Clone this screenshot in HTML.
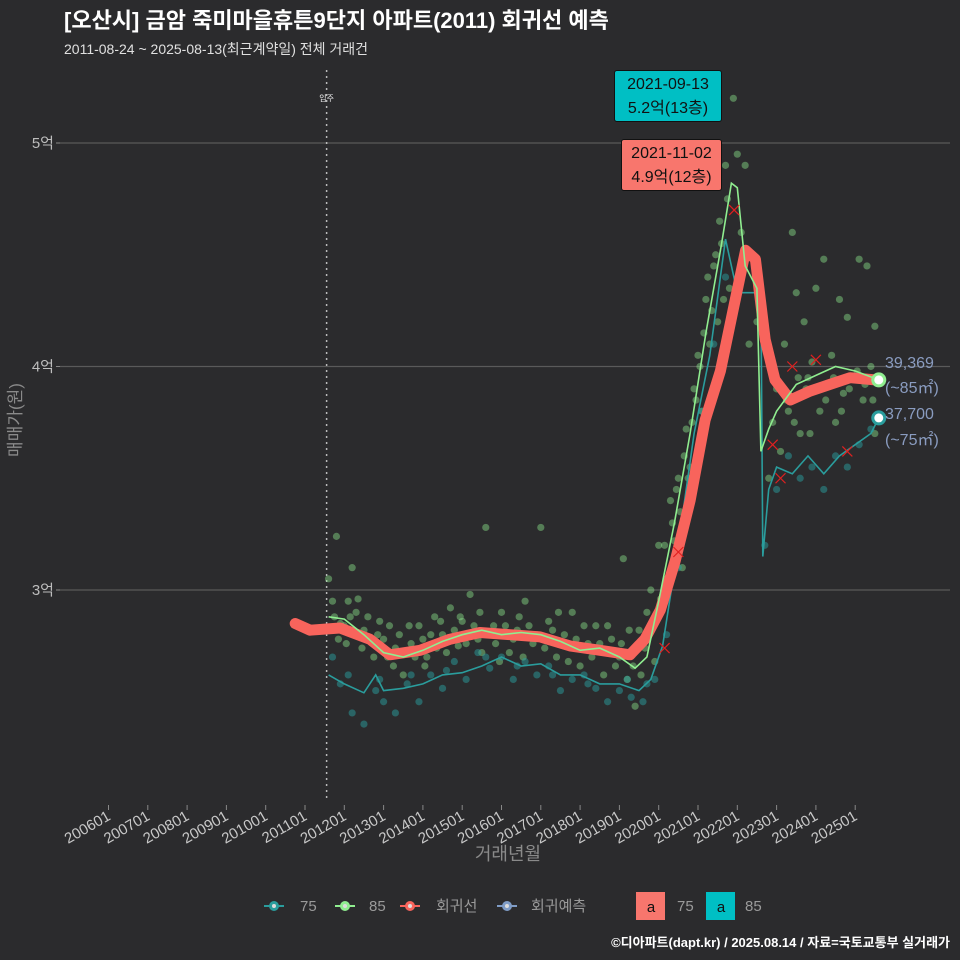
<!DOCTYPE html>
<html><head><meta charset="utf-8">
<style>
body{margin:0;background:#2b2b2d;}
svg{display:block;font-family:"Liberation Sans","Noto Sans CJK KR",sans-serif;}
</style></head>
<body>
<svg id="chart" width="960" height="960" viewBox="0 0 960 960" xmlns="http://www.w3.org/2000/svg">
<rect width="960" height="960" fill="#2b2b2d"/>
<text x="64" y="28" fill="#ffffff" font-size="22" font-weight="bold">[오산시] 금암 죽미마을휴튼9단지 아파트(2011) 회귀선 예측</text>
<text x="64" y="54" fill="#e0e0e0" font-size="14">2011-08-24 ~ 2025-08-13(최근계약일) 전체 거래건</text>
<g id="grid"></g>
<g id="yaxis"></g>
<g id="xaxis"></g>
<text transform="translate(21,420) rotate(-90)" text-anchor="middle" fill="#8a8a8a" font-size="17">매매가(원)</text>
<text x="508" y="860" text-anchor="middle" fill="#8a8a8a" font-size="18">거래년월</text>
<g id="movein"></g>
<g id="marks"></g>
<g font-size="15" fill="#9a9a9a">
 <g><line x1="264" y1="906" x2="284" y2="906" stroke="#2a9d9d" stroke-width="2"/><circle cx="274" cy="906" r="5" fill="#2a9d9d"/><circle cx="274" cy="906" r="2" fill="#ddd"/><text x="300" y="911">75</text></g>
 <g><line x1="335" y1="906" x2="355" y2="906" stroke="#90ee90" stroke-width="2"/><circle cx="345" cy="906" r="5" fill="#90ee90"/><circle cx="345" cy="906" r="2" fill="#ddd"/><text x="369" y="911">85</text></g>
 <g><line x1="400" y1="906" x2="420" y2="906" stroke="#f8645c" stroke-width="2"/><circle cx="410" cy="906" r="5" fill="#f8645c"/><circle cx="410" cy="906" r="2" fill="#ddd"/><text x="436" y="911">회귀선</text></g>
 <g><line x1="497" y1="906" x2="517" y2="906" stroke="#7f9cc6" stroke-width="2"/><circle cx="507" cy="906" r="5" fill="#7f9cc6"/><circle cx="507" cy="906" r="2" fill="#ddd"/><text x="531" y="911">회귀예측</text></g>
 <g><rect x="636" y="892" width="29" height="28" fill="#f8766d"/><text x="651" y="912" text-anchor="middle" fill="#111" font-size="15">a</text><text x="677" y="911">75</text></g>
 <g><rect x="706" y="892" width="29" height="28" fill="#00bfc4"/><text x="721" y="912" text-anchor="middle" fill="#111" font-size="15">a</text><text x="745" y="911">85</text></g>
</g>
<text x="950" y="947" text-anchor="end" fill="#ffffff" font-size="13" font-weight="bold">©디아파트(dapt.kr) / 2025.08.14 / 자료=국토교통부 실거래가</text>
</svg>
<script>
const yTicks=[3,4,5];
const yTickLabels=["3억","4억","5억"];
const xTickYears=[2006,2007,2008,2009,2010,2011,2012,2013,2014,2015,2016,2017,2018,2019,2020,2021,2022,2023,2024,2025];
const xTickLabels=["200601","200701","200801","200901","201001","201101","201201","201301","201401","201501","201601","201701","201801","201901","202001","202101","202201","202301","202401","202501"];
const moveIn=2011.55;
const regT=[2010.75,2011.13,2011.89,2012.65,2013.16,2013.93,2014.69,2015.45,2016.22,2016.98,2017.74,2018.51,2019.27,2019.65,2020.04,2020.42,2020.80,2021.18,2021.57,2021.95,2022.21,2022.46,2022.71,2022.96,2023.35,2023.85,2024.36,2024.87,2025.51];
const regV=[2.85,2.82,2.83,2.78,2.71,2.73,2.78,2.81,2.80,2.79,2.75,2.73,2.71,2.78,2.91,3.13,3.40,3.76,3.98,4.30,4.52,4.48,4.12,3.94,3.85,3.89,3.92,3.95,3.94];
const g85T=[2011.6,2012.0,2012.5,2013.0,2013.5,2014.0,2014.5,2015.0,2015.5,2016.0,2016.5,2017.0,2017.5,2018.0,2018.5,2019.0,2019.4,2019.7,2020.0,2020.4,2020.8,2021.2,2021.6,2021.85,2022.0,2022.2,2022.5,2022.6,2022.8,2023.0,2023.5,2024.0,2024.5,2025.0,2025.6];
const g85V=[2.88,2.87,2.80,2.72,2.70,2.73,2.77,2.80,2.82,2.80,2.81,2.80,2.77,2.73,2.74,2.70,2.65,2.70,2.95,3.30,3.70,4.15,4.55,4.82,4.80,4.45,4.35,3.62,3.72,3.80,3.92,3.96,4.00,3.98,3.94];
const g75T=[2011.6,2012.0,2012.5,2012.8,2013.0,2013.5,2014.0,2014.5,2015.0,2015.5,2016.0,2016.5,2017.0,2017.5,2018.0,2018.5,2019.0,2019.5,2019.8,2020.1,2020.5,2020.9,2021.3,2021.7,2022.0,2022.6,2022.65,2022.8,2023.0,2023.4,2023.8,2024.2,2024.6,2025.0,2025.4,2025.6];
const g75V=[2.62,2.58,2.54,2.62,2.55,2.56,2.58,2.62,2.63,2.66,2.70,2.66,2.67,2.62,2.62,2.58,2.58,2.55,2.60,2.75,3.20,3.70,4.05,4.57,4.33,4.33,3.15,3.45,3.55,3.52,3.60,3.52,3.60,3.65,3.70,3.77];
const s85=[[2011.6,3.05],[2011.7,2.95],[2011.8,3.24],[2011.9,2.85],[2012.1,2.95],[2012.2,3.1],[2012.3,2.9],[2012.5,2.82],[2012.7,2.78],[2012.9,2.86],[2013.1,2.7],[2013.3,2.74],[2013.5,2.62],[2013.7,2.76],[2013.9,2.84],[2014.1,2.7],[2014.3,2.88],[2014.5,2.8],[2014.7,2.92],[2014.9,2.75],[2015.0,2.86],[2015.2,2.98],[2015.4,2.78],[2015.6,3.28],[2015.8,2.84],[2016.0,2.9],[2016.2,2.72],[2016.4,2.82],[2016.6,2.95],[2016.8,2.76],[2017.0,3.28],[2017.2,2.86],[2017.4,2.7],[2017.6,2.8],[2017.8,2.9],[2018.0,2.66],[2018.2,2.76],[2018.4,2.84],[2018.6,2.62],[2018.8,2.78],[2019.0,2.7],[2019.1,3.14],[2019.2,2.6],[2019.4,2.48],[2019.5,2.82],[2019.7,2.9],[2019.8,3.0],[2019.9,2.68],[2020.0,3.2],[2020.2,3.05],[2020.3,3.4],[2020.4,3.22],[2020.5,3.5],[2020.6,3.1],[2020.7,3.72],[2020.8,3.55],[2020.9,3.9],[2021.0,4.05],[2021.1,3.8],[2021.2,4.3],[2021.3,4.1],[2021.4,4.45],[2021.5,4.2],[2021.6,4.55],[2021.7,4.9],[2021.8,4.35],[2021.9,5.2],[2022.0,4.95],[2022.1,4.6],[2022.2,4.9],[2022.5,4.2],[2022.8,3.5],[2023.0,3.9],[2023.2,4.1],[2023.3,3.8],[2023.4,4.6],[2023.5,4.33],[2023.6,3.7],[2023.7,4.2],[2023.8,3.95],[2023.9,4.02],[2024.0,4.35],[2024.1,3.8],[2024.2,4.48],[2024.3,3.92],[2024.4,4.05],[2024.5,3.75],[2024.6,4.3],[2024.7,3.88],[2024.8,4.22],[2024.9,3.95],[2025.1,4.48],[2025.2,3.85],[2025.3,4.45],[2025.4,4.0],[2025.5,3.7],[2025.5,4.18]];
const s85b=[[2011.65,2.82],[2011.75,2.88],[2011.85,2.78],[2012.0,2.84],[2012.05,2.76],[2012.15,2.88],[2012.25,2.8],[2012.35,2.96],[2012.45,2.74],[2012.6,2.88],[2012.75,2.7],[2012.85,2.8],[2013.0,2.78],[2013.15,2.84],[2013.25,2.66],[2013.4,2.8],[2013.55,2.72],[2013.65,2.84],[2013.8,2.7],[2014.0,2.78],[2014.05,2.66],[2014.2,2.8],[2014.35,2.74],[2014.45,2.86],[2014.6,2.72],[2014.8,2.82],[2014.95,2.88],[2015.1,2.76],[2015.3,2.84],[2015.45,2.9],[2015.5,2.72],[2015.7,2.8],[2015.85,2.76],[2015.95,2.68],[2016.1,2.84],[2016.3,2.78],[2016.45,2.88],[2016.55,2.7],[2016.7,2.84],[2016.9,2.8],[2017.1,2.74],[2017.3,2.82],[2017.45,2.9],[2017.55,2.76],[2017.7,2.68],[2017.9,2.78],[2018.1,2.84],[2018.3,2.7],[2018.5,2.76],[2018.7,2.84],[2018.9,2.66],[2019.05,2.76],[2019.25,2.82],[2019.35,2.66],[2019.55,2.62],[2019.65,2.74],[2019.85,2.86],[2020.05,2.96],[2020.15,3.2],[2020.35,3.3],[2020.45,3.45],[2020.55,3.35],[2020.65,3.6],[2020.75,3.5],[2020.85,3.75],[2020.95,3.85],[2021.05,4.0],[2021.15,4.15],[2021.25,4.4],[2021.35,4.25],[2021.45,4.5],[2021.55,4.65],[2021.65,4.3],[2021.75,4.75],[2022.3,4.1],[2022.9,3.75],[2023.1,3.62],[2023.25,3.85],[2023.45,3.75],[2023.55,3.95],[2023.75,3.9],[2023.85,3.7],[2024.05,3.9],[2024.25,3.85],[2024.45,3.95],[2024.65,3.8],[2024.85,3.9],[2025.05,3.98],[2025.25,3.92],[2025.45,3.85]];
const s75=[[2011.7,2.7],[2011.9,2.58],[2012.2,2.45],[2012.5,2.4],[2012.8,2.55],[2013.0,2.5],[2013.3,2.45],[2013.6,2.58],[2013.9,2.5],[2014.2,2.62],[2014.5,2.56],[2014.8,2.68],[2015.1,2.6],[2015.4,2.72],[2015.7,2.65],[2016.0,2.7],[2016.3,2.6],[2016.6,2.68],[2016.9,2.62],[2017.2,2.66],[2017.5,2.55],[2017.8,2.6],[2018.1,2.62],[2018.4,2.56],[2018.7,2.5],[2019.0,2.55],[2019.3,2.52],[2019.6,2.5],[2019.9,2.6],[2020.2,2.8],[2020.5,3.1],[2020.8,3.5],[2021.1,3.8],[2021.4,4.1],[2021.7,4.4],[2022.0,4.3],[2022.7,3.2],[2023.0,3.45],[2023.3,3.6],[2023.6,3.5],[2023.9,3.55],[2024.2,3.45],[2024.5,3.6],[2024.8,3.55],[2025.1,3.65],[2025.4,3.72],[2012.1,2.62],[2012.9,2.6],[2013.7,2.62],[2014.6,2.64],[2015.6,2.7],[2016.4,2.66],[2017.3,2.62],[2018.2,2.58],[2019.2,2.6],[2019.7,2.58]];
const xMarks=[[2021.92,4.7],[2020.5,3.17],[2020.15,2.74],[2022.9,3.65],[2023.1,3.5],[2023.4,4.0],[2024.0,4.03],[2024.8,3.62]];

const NS="http://www.w3.org/2000/svg";
function X(t){return 108.5+(t-2006)*39.3;}
function Y(v){return 590-(v-3)*223.5;}
function mk(tag,attrs,parent){const e=document.createElementNS(NS,tag);for(const k in attrs)e.setAttribute(k,attrs[k]);parent.appendChild(e);return e;}
const grid=document.getElementById('grid'),ya=document.getElementById('yaxis'),xa=document.getElementById('xaxis'),marks=document.getElementById('marks'),mv=document.getElementById('movein');
yTicks.forEach((v,i)=>{
 const l=mk('line',{x1:60,x2:950,y1:Y(v),y2:Y(v),stroke:'#5a5a5a','stroke-width':1.2},grid);
 
 
 const t=mk('text',{x:54,y:Y(v)+5,'text-anchor':'end',fill:'#bdbdbd','font-size':15},ya);
 
 
 t.textContent=yTickLabels[i];
 mk('line',{x1:56,x2:60,y1:Y(v),y2:Y(v),stroke:'#888'},ya);
});
xTickYears.forEach((yr,i)=>{
 const x=X(yr);
 mk('line',{x1:x,x2:x,y1:805,y2:810,stroke:'#888'},xa);
 const t=mk('text',{x:x+3,y:819,'text-anchor':'end',fill:'#c8c8c8','font-size':15,transform:`rotate(-30 ${x+3} 819)`},xa);
 
 
 t.textContent=xTickLabels[i];
});
mk('line',{x1:X(moveIn),x2:X(moveIn),y1:70,y2:800,stroke:'#bbb','stroke-width':1.5,'stroke-dasharray':'2,4'},mv);
const mt=mk('text',{x:X(moveIn),y:101,'text-anchor':'middle',fill:'#eee','font-size':8},mv);
mt.textContent='입주';
function pts(T,V){return T.map((t,i)=>X(t).toFixed(1)+','+Y(V[i]).toFixed(1)).join(' ');}
s85.concat(s85b).forEach(p=>{const c=mk('circle',{cx:X(p[0]),cy:Y(p[1]),r:3.6,fill:'#90ee90','fill-opacity':0.42},marks);
 
 });
s75.forEach(p=>{const c=mk('circle',{cx:X(p[0]),cy:Y(p[1]),r:3.6,fill:'#2a9d9d','fill-opacity':0.5},marks);
 
 });
const l75=mk('polyline',{points:pts(g75T,g75V),fill:'none',stroke:'#2a9d9d','stroke-width':1.6},marks);


const reg=mk('polyline',{points:pts(regT,regV),fill:'none',stroke:'#f8645c','stroke-width':11,'stroke-linecap':'round','stroke-linejoin':'round'},marks);


const l85=mk('polyline',{points:pts(g85T,g85V),fill:'none',stroke:'#90ee90','stroke-width':1.6},marks);


xMarks.forEach(p=>{const x=X(p[0]),y=Y(p[1]);
 const g=mk('g',{stroke:'#e02020','stroke-width':1.2},marks);
 
 
 mk('line',{x1:x-5,y1:y-5,x2:x+5,y2:y+5},g);mk('line',{x1:x-5,y1:y+5,x2:x+5,y2:y-5},g);});
const e85=mk('circle',{cx:X(g85T[g85T.length-1]),cy:Y(g85V[g85V.length-1]),r:6,fill:'#fff',stroke:'#90ee90','stroke-width':3},marks);


const e75=mk('circle',{cx:X(g75T[g75T.length-1]),cy:Y(g75V[g75V.length-1]),r:6,fill:'#fff',stroke:'#2a9d9d','stroke-width':3},marks);


</script>
<div style="position:absolute;left:0;top:0;width:960px;height:960px;pointer-events:none;font-family:'Liberation Sans','Noto Sans CJK KR',sans-serif;">
 <div style="position:absolute;left:614px;top:70px;width:108px;height:52px;background:#00bfc4;border:1px solid #111;border-radius:3px;color:#111;font-size:16px;line-height:24px;text-align:center;padding-top:2px;box-sizing:border-box;">2021-09-13<br>5.2억(13층)</div>
 <div style="position:absolute;left:621px;top:139px;width:101px;height:52px;background:#f8766d;border:1px solid #111;border-radius:3px;color:#111;font-size:16px;line-height:24px;text-align:center;padding-top:2px;box-sizing:border-box;">2021-11-02<br>4.9억(12층)</div>
 <div style="position:absolute;left:885px;top:351px;color:#8a9cc0;font-size:16px;line-height:25px;">39,369<br>(~85㎡)</div>
 <div style="position:absolute;left:885px;top:402px;color:#8a9cc0;font-size:16px;line-height:26px;">37,700<br>(~75㎡)</div>
</div>
</body></html>
